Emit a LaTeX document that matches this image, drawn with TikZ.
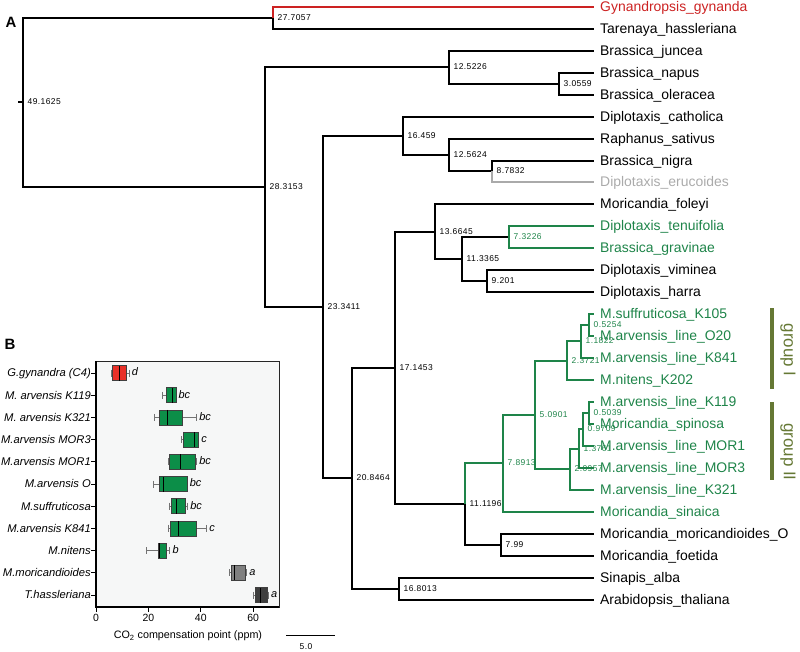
\documentclass[tikz,border=0pt]{standalone}
\usepackage{fontspec}
\setmainfont{Liberation Sans}
\newfontfamily\labfam[LetterSpace=5]{Liberation Sans}
\definecolor{tred}{RGB}{204,34,34}
\definecolor{tgreen}{RGB}{30,132,73}
\definecolor{tgrey}{RGB}{170,170,170}
\definecolor{olive}{RGB}{101,120,52}
\definecolor{bred}{RGB}{232,48,40}
\definecolor{bgreen}{RGB}{12,142,72}
\definecolor{bgrey}{RGB}{128,128,128}
\definecolor{bdark}{RGB}{62,62,62}
\definecolor{panelbg}{RGB}{246,247,247}
\tikzset{
  br/.style={line width=2.2bp},
  gbr/.style={line width=2.2bp, draw=tgreen},
  nl/.style={font=\labfam\fontsize{8.5}{9}\selectfont, anchor=west, inner xsep=4.5pt, inner ysep=0pt, text height=6pt, text depth=0pt},
  nlg/.style={nl, text=tgreen},
  tip/.style={font=\fontsize{14}{16}\selectfont, anchor=west, inner xsep=6pt, inner ysep=0pt, text height=10pt, text depth=0pt},
  rowlab/.style={font=\itshape\fontsize{11.25}{12}\selectfont, anchor=east, inner xsep=5bp, inner ysep=0pt, text height=8pt, text depth=0pt},
  sig/.style={font=\itshape\fontsize{11}{12}\selectfont, anchor=west, inner xsep=2.5pt, inner ysep=0pt, text height=6pt, text depth=0pt},
  whisk/.style={draw=black!55, line width=0.8bp},
  panellet/.style={font=\bfseries\fontsize{15}{16}\selectfont, inner sep=0pt},
  grouplab/.style={font=\fontsize{17}{18}\selectfont, text=olive, rotate=-90, inner sep=0pt},
}
\newcommand\mybprow[9]{%
  \pgfmathsetmacro\ry{373+22.2*(#1-1)}%
  \draw[whisk] (#2,\ry) -- (#3,\ry) (#5,\ry) -- (#6,\ry);
  \draw[whisk] (#2,\ry-3.5) -- (#2,\ry+3.5) (#6,\ry-3.5) -- (#6,\ry+3.5);
  \draw[draw=black!75, line width=0.6bp, fill=#7] (#3,\ry-7.5) rectangle (#5,\ry+7.5);
  \draw[line width=0.9bp] (#4,\ry-7.5) -- (#4,\ry+7.5);
  \node[sig] (sg#1) at (#6,\ry) {#8};
  \node[rowlab] (rl#1) at (0,\ry) {#9};
  \draw[line width=1bp] (0,\ry) -- ++(-5bp,0);
}
\begin{document}
\begin{tikzpicture}[x=1bp,y=-1bp]
\useasboundingbox (0,0) rectangle (800,652);

% panel letters
\node[panellet] (pA) at (11,22) {A};
\node[panellet] (pB) at (10,344) {B};

% tips
\node[tip,text=tred] (t0) at (594,7) {Gynandropsis\_gynanda};
\node[tip] (t1) at (594,29) {Tarenaya\_hassleriana};
\node[tip] (t2) at (594,51) {Brassica\_juncea};
\node[tip] (t3) at (594,73) {Brassica\_napus};
\node[tip] (t4) at (594,95) {Brassica\_oleracea};
\node[tip] (t5) at (594,117) {Diplotaxis\_catholica};
\node[tip] (t6) at (594,139) {Raphanus\_sativus};
\node[tip] (t7) at (594,161) {Brassica\_nigra};
\node[tip,text=tgrey] (t8) at (594,182) {Diplotaxis\_erucoides};
\node[tip] (t9) at (594,204) {Moricandia\_foleyi};
\node[tip,text=tgreen] (t10) at (594,226) {Diplotaxis\_tenuifolia};
\node[tip,text=tgreen] (t11) at (594,248) {Brassica\_gravinae};
\node[tip] (t12) at (594,270) {Diplotaxis\_viminea};
\node[tip] (t13) at (594,292) {Diplotaxis\_harra};
\node[tip,text=tgreen] (t14) at (594,314) {M.suffruticosa\_K105};
\node[tip,text=tgreen] (t15) at (594,336) {M.arvensis\_line\_O20};
\node[tip,text=tgreen] (t16) at (594,358) {M.arvensis\_line\_K841};
\node[tip,text=tgreen] (t17) at (594,380) {M.nitens\_K202};
\node[tip,text=tgreen] (t18) at (594,402) {M.arvensis\_line\_K119};
\node[tip,text=tgreen] (t19) at (594,424) {Moricandia\_spinosa};
\node[tip,text=tgreen] (t20) at (594,446) {M.arvensis\_line\_MOR1};
\node[tip,text=tgreen] (t21) at (594,468) {M.arvensis\_line\_MOR3};
\node[tip,text=tgreen] (t22) at (594,490) {M.arvensis\_line\_K321};
\node[tip,text=tgreen] (t23) at (594,512) {Moricandia\_sinaica};
\node[tip] (t24) at (594,534) {Moricandia\_moricandioides\_O};
\node[tip] (t25) at (594,556) {Moricandia\_foetida};
\node[tip] (t26) at (594,578) {Sinapis\_alba};
\node[tip] (t27) at (594,600) {Arabidopsis\_thaliana};

% internal nodes with their labels
\node[nl] (n49) at (23,102) {49.1625};
\node[nl] (n27) at (273,18) {27.7057};
\node[nl] (n28) at (265,187) {28.3153};
\node[nl] (n12a) at (449,67) {12.5226};
\node[nl] (n30) at (559,84) {3.0559};
\node[nl] (n23) at (323,307) {23.3411};
\node[nl] (n16a) at (403,136) {16.459};
\node[nl] (n12b) at (449,155) {12.5624};
\node[nl] (n8) at (492,171) {8.7832};
\node[nl] (n20) at (352,478) {20.8464};
\node[nl] (n17) at (395,368) {17.1453};
\node[nl] (n13) at (435,232) {13.6645};
\node[nl] (n11a) at (462,259) {11.3365};
\node[nlg] (n7a) at (509,237) {7.3226};
\node[nl] (n9) at (487,281) {9.201};
\node[nl] (n11b) at (465,504) {11.1196};
\node[nlg] (n7b) at (503,463) {7.8913};
\node[nlg] (n5) at (535,415) {5.0901};
\node[nlg] (n2a) at (567,361) {2.3721};
\node[nlg] (n1a) at (581,341) {1.1822};
\node[nlg] (n0a) at (589,325) {0.5254};
\node[nlg] (n2b) at (570,469) {2.0957};
\node[nlg] (n1b) at (579,449) {1.3761};
\node[nlg] (n0b) at (583,429) {0.9709};
\node[nlg] (n0c) at (589,413) {0.5039};
\node[nl] (n7c) at (501,545) {7.99};
\node[nl] (n16b) at (399,589) {16.8013};

% branches
\coordinate (rootstub) at (18,102);
\draw[br] (rootstub) -- (n49.west);
\draw[br] (n49.west) |- (n27.west);
\draw[br] (n49.west) |- (n28.west);
\draw[br, draw=tred] (n27.west) |- (t0.west);
\draw[br] (n27.west) |- (t1.west);
\draw[br] (n28.west) |- (n12a.west);
\draw[br] (n28.west) |- (n23.west);
\draw[br] (n12a.west) |- (t2.west);
\draw[br] (n12a.west) |- (n30.west);
\draw[br] (n30.west) |- (t3.west);
\draw[br] (n30.west) |- (t4.west);
\draw[br] (n23.west) |- (n16a.west);
\draw[br] (n23.west) |- (n20.west);
\draw[br] (n16a.west) |- (t5.west);
\draw[br] (n16a.west) |- (n12b.west);
\draw[br] (n12b.west) |- (t6.west);
\draw[br] (n12b.west) |- (n8.west);
\draw[br] (n8.west) |- (t7.west);
\draw[br, draw=tgrey] (n8.west) |- (t8.west);
\draw[br] (n20.west) |- (n17.west);
\draw[br] (n20.west) |- (n16b.west);
\draw[br] (n17.west) |- (n13.west);
\draw[br] (n17.west) |- (n11b.west);
\draw[br] (n13.west) |- (t9.west);
\draw[br] (n13.west) |- (n11a.west);
\draw[br] (n11a.west) |- (n7a.west);
\draw[br] (n11a.west) |- (n9.west);
\draw[gbr] (n7a.west) |- (t10.west);
\draw[gbr] (n7a.west) |- (t11.west);
\draw[br] (n9.west) |- (t12.west);
\draw[br] (n9.west) |- (t13.west);
\draw[gbr] (n11b.west) |- (n7b.west);
\draw[br] (n11b.west) |- (n7c.west);
\draw[gbr] (n7b.west) |- (n5.west);
\draw[gbr] (n7b.west) |- (t23.west);
\draw[gbr] (n5.west) |- (n2a.west);
\draw[gbr] (n5.west) |- (n2b.west);
\draw[gbr] (n2a.west) |- (n1a.west);
\draw[gbr] (n2a.west) |- (t17.west);
\draw[gbr] (n1a.west) |- (n0a.west);
\draw[gbr] (n1a.west) |- (t16.west);
\draw[gbr] (n0a.west) |- (t14.west);
\draw[gbr] (n0a.west) |- (t15.west);
\draw[gbr] (n2b.west) |- (n1b.west);
\draw[gbr] (n2b.west) |- (t22.west);
\draw[gbr] (n1b.west) |- (n0b.west);
\draw[gbr] (n1b.west) |- (t21.west);
\draw[gbr] (n0b.west) |- (n0c.west);
\draw[gbr] (n0b.west) |- (t20.west);
\draw[gbr] (n0c.west) |- (t18.west);
\draw[gbr] (n0c.west) |- (t19.west);
\draw[br] (n7c.west) |- (t24.west);
\draw[br] (n7c.west) |- (t25.west);
\draw[br] (n16b.west) |- (t26.west);
\draw[br] (n16b.west) |- (t27.west);

% group bars
\coordinate (g1a) at (772,308);
\coordinate (g1b) at (772,389);
\coordinate (g2a) at (772,402);
\coordinate (g2b) at (772,480);
\draw[olive, line width=4bp] (g1a) -- (g1b);
\draw[olive, line width=4bp] (g2a) -- (g2b);
\node[grouplab] (gl1) at (788,350) {group I};
\node[grouplab] (gl2) at (788,452) {group II};

% scale bar
\coordinate (sbL) at (286,635);
\coordinate (sbR) at (335,635);
\draw[line width=0.8bp] (sbL) -- (sbR);
\node[nl, anchor=center, inner xsep=0pt] (sbt) at (306,647) {5.0};

% panel B
\begin{scope}[shift={(96bp,0bp)}, x=2.62bp]
  \draw[fill=panelbg, draw=black!85, line width=0.8bp] (0,361) rectangle (70,607);
  \mybprow{1}{6}{6.3}{8.9}{11.7}{12.7}{bred}{d}{G.gynandra (C4)}
  \mybprow{2}{25.4}{26.7}{29.3}{30.5}{30.5}{bgreen}{bc}{M. arvensis K119}
  \mybprow{3}{22.3}{24.2}{27.2}{32.9}{38.4}{bgreen}{bc}{M. arvensis K321}
  \mybprow{4}{32.7}{33.3}{37.4}{39.2}{39.2}{bgreen}{c}{M.arvensis MOR3}
  \mybprow{5}{27.6}{27.9}{32.3}{37.9}{38.4}{bgreen}{bc}{M.arvensis MOR1}
  \mybprow{6}{21.9}{24.2}{25.7}{34.8}{34.8}{bgreen}{bc}{M.arvensis O}
  \mybprow{7}{28}{28.6}{30.8}{34.2}{35}{bgreen}{bc}{M.suffruticosa}
  \mybprow{8}{27.7}{28.5}{31.4}{38.2}{42.2}{bgreen}{c}{M.arvensis K841}
  \mybprow{9}{19.3}{23.7}{24.1}{26.7}{28.2}{bgreen}{b}{M.nitens}
  \mybprow{10}{51}{51.5}{52.8}{57.1}{57.5}{bgrey}{a}{M.moricandioides}
  \mybprow{11}{60.2}{60.8}{62.9}{65.4}{65.8}{bdark}{a}{T.hassleriana}
  \draw[line width=1.1bp] (0,361) -- (0,607) -- (70,607);
  \foreach \v in {0,20,40,60} {
    \draw[line width=1bp] (\v,607) -- ++(0,5);
    \node[font=\fontsize{10.5}{12}\selectfont, inner sep=0pt] (xt\v) at (\v,618) {\v};
  }
  \node[font=\fontsize{10.8}{12}\selectfont, inner sep=0pt] (xtitle) at (35.1,636) {CO\textsubscript{2} compensation point (ppm)};
\end{scope}
\end{tikzpicture}
\end{document}
